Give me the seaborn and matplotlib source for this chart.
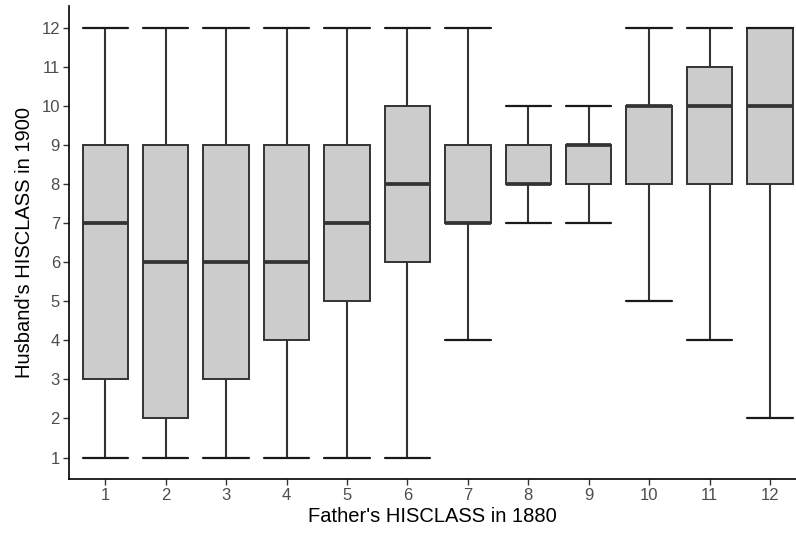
import numpy as np
import pandas as pd
import matplotlib
matplotlib.use("Agg")
import matplotlib.pyplot as plt
import seaborn as sns

# father's class (x) and five-number summary of husband's class (y)
father_class = ["1", "2", "3", "4", "5", "6", "7", "8", "9", "10", "11", "12"]
lower = [1, 1, 1, 1, 1, 1, 4, 7, 7, 5, 4, 2]
q1 = [3, 2, 3, 4, 5, 6, 7, 8, 8, 8, 8, 8]
median = [7, 6, 6, 6, 7, 8, 7, 8, 9, 10, 10, 10]
q3 = [9, 9, 9, 9, 9, 10, 9, 9, 9, 10, 11, 12]
upper = [12, 12, 12, 12, 12, 12, 12, 10, 10, 12, 12, 12]

# five points per group -> quartiles come out exactly as above
rows = []
for i, f in enumerate(father_class):
    for v in (lower[i], q1[i], median[i], q3[i], upper[i]):
        rows.append((f, v))
df = pd.DataFrame(rows, columns=["father", "husband"])

sns.set_style("ticks")
plt.rcParams['font.family'] = ['Liberation Sans', 'DejaVu Sans']

fig = plt.figure(figsize=(7.96, 5.37), dpi=100)
ax = fig.add_axes([69 / 796, 58 / 537, 727 / 796, 473 / 537])

edge = "#333333"
sns.boxplot(data=df, x="father", y="husband", order=father_class, ax=ax,
            whis=np.inf, width=0.75, color="#CCCCCC", linecolor=edge, linewidth=1.4,
            showfliers=False, capwidths=0.75,
            boxprops=dict(facecolor="#CCCCCC", edgecolor=edge),
            medianprops=dict(color=edge, linewidth=2.7),
            whiskerprops=dict(color=edge, linewidth=1.5),
            capprops=dict(color="#1a1a1a", linewidth=1.6))

ax.set_xlim(-0.6, 11.43)
ax.set_ylim(0.45, 12.55)
ax.set_yticks(range(1, 13))
ax.set_xlabel("Father's HISCLASS in 1880", fontsize=14.5, color="black", labelpad=3)
ax.set_ylabel("Husband's HISCLASS in 1900", fontsize=14.5, color="black", labelpad=5)
ax.tick_params(axis="both", labelsize=12, labelcolor="#4D4D4D", color=edge, length=4, width=1, pad=2.5)
sns.despine(ax=ax)
for s in ("left", "bottom"):
    ax.spines[s].set_linewidth(1.2)
    ax.spines[s].set_color("black")

fig.savefig("out.png", dpi=100)
